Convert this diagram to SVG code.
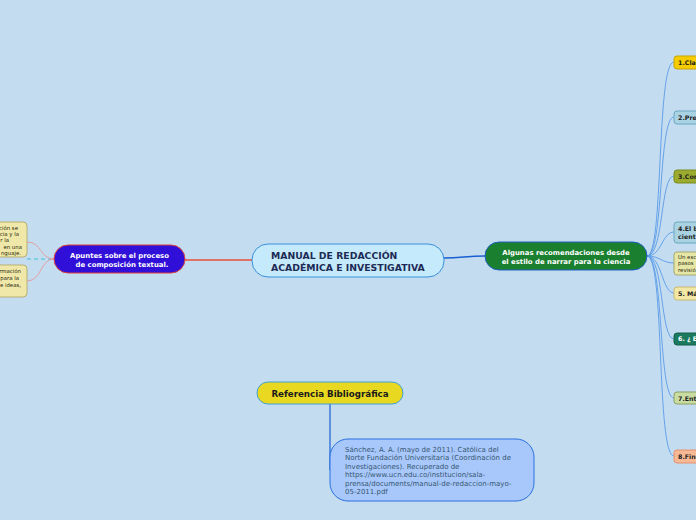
<svg xmlns="http://www.w3.org/2000/svg" width="696" height="520" viewBox="0 0 696 520">
<style>
text{font-family:"DejaVu Sans","Liberation Sans",sans-serif}
.b{font-weight:bold}
.kt{font-size:6.3px;font-weight:bold;fill:#1e1e1e}
.leaf{font-size:5.4px;fill:#2a2a10}
.rc{fill:none;stroke:#5a9be8;stroke-width:0.9}
</style>
<rect width="696" height="520" fill="#c3dcf0"/>
<g id="connectors">
<path d="M252,260 L185,260" stroke="#e8503a" stroke-width="1.5" fill="none"/>
<path d="M444,258 C462,258 466,256 485,256" stroke="#1a5fd0" stroke-width="1.5" fill="none"/>
<path d="M27,259 L54,259" stroke="#80cfe0" stroke-width="2" stroke-dasharray="4,3" fill="none"/>
<path d="M54,259 C40,259 42,242 27,242" stroke="#e89898" stroke-width="0.9" fill="none"/>
<path d="M54,259 C40,259 42,281 27,281" stroke="#e89898" stroke-width="0.9" fill="none"/>
<path d="M330,404 L330,470" stroke="#1a5fd0" stroke-width="1.2" fill="none"/>
<path class="rc" d="M647,256 C664,256 656,62 674,62"/>
<path class="rc" d="M647,256 C664,256 658,117 674,117"/>
<path class="rc" d="M647,256 C664,256 660,176 674,176"/>
<path class="rc" d="M647,256 C662,256 662,232 674,232"/>
<path class="rc" d="M647,256 C660,256 662,263 674,263"/>
<path class="rc" d="M647,256 C662,256 662,293 674,293"/>
<path class="rc" d="M647,256 C664,256 660,339 674,339"/>
<path class="rc" d="M647,256 C664,256 658,398 674,398"/>
<path class="rc" d="M647,256 C665,256 656,456 674,456"/>
</g>
<g id="central">
<rect x="252" y="244" width="192" height="33" rx="16" fill="#c5eafc" stroke="#3a90d8" stroke-width="1"/>
<text x="271" y="259" class="b" font-size="9.3" fill="#1d2a55">MANUAL DE REDACCIÓN</text>
<text x="271" y="271" class="b" font-size="9.3" fill="#1d2a55">ACADÉMICA E INVESTIGATIVA</text>
</g>
<g id="apuntes">
<rect x="54" y="245" width="131" height="28" rx="14" fill="#3010d8" stroke="#e0403a" stroke-width="1"/>
<text x="119.5" y="258" class="b" font-size="6.9" fill="#ffffff" text-anchor="middle">Apuntes sobre el proceso</text>
<text x="122" y="267" class="b" font-size="6.9" fill="#ffffff" text-anchor="middle">de composición textual.</text>
</g>
<g id="leaf-left-1">
<rect x="-20" y="222" width="47" height="35" rx="4" fill="#f0e8a8" stroke="#b8b070" stroke-width="1"/>
<text class="leaf" text-anchor="end" x="18" y="230">ción se</text>
<text class="leaf" text-anchor="end" x="19" y="236">cia y la</text>
<text class="leaf" text-anchor="end" x="9" y="242">r la</text>
<text class="leaf" text-anchor="end" x="22" y="249">en una</text>
<text class="leaf" text-anchor="end" x="21" y="255">nguaje.</text>
</g>
<g id="leaf-left-2">
<rect x="-20" y="265" width="47" height="32" rx="4" fill="#f0e8a8" stroke="#b8b070" stroke-width="1"/>
<text class="leaf" text-anchor="end" x="21" y="273">rmación</text>
<text class="leaf" text-anchor="end" x="19" y="280">para la</text>
<text class="leaf" text-anchor="end" x="21" y="287">e ideas,</text>
</g>
<g id="recomendaciones">
<rect x="485" y="242" width="162" height="28" rx="14" fill="#1a8030" stroke="#2060c0" stroke-width="1"/>
<text x="566" y="254.5" class="b" font-size="6.9" fill="#ffffff" text-anchor="middle">Algunas recomendaciones  desde</text>
<text x="566" y="264" class="b" font-size="6.9" fill="#ffffff" text-anchor="middle">el estilo de narrar para la ciencia</text>
</g>
<g id="c1"><rect x="674" y="56" width="60" height="13" rx="3" fill="#f5cc00" stroke="#c9a300"/><text class="kt" x="678" y="64.5">1.Cla</text></g>
<g id="c2"><rect x="674" y="111" width="60" height="13" rx="3" fill="#a9d2e2" stroke="#6aa8c0"/><text class="kt" x="678" y="119.5">2.Pre</text></g>
<g id="c3"><rect x="674" y="170" width="60" height="13" rx="3" fill="#9aab2e" stroke="#7a8a20"/><text class="kt" x="678" y="178.5">3.Com</text></g>
<g id="c4"><rect x="674" y="222" width="60" height="21" rx="3" fill="#a9d2e2" stroke="#6aa8c0"/><text class="kt" x="678" y="230.5">4.El b</text><text class="kt" x="678" y="238.5">cient</text></g>
<g id="c5"><rect x="674" y="252" width="60" height="23" rx="3" fill="#e6e6a6" stroke="#a8a870"/><text class="leaf" x="678" y="258.5">Un esc</text><text class="leaf" x="678" y="265">pasos</text><text class="leaf" x="678" y="271.5">revisió</text></g>
<g id="c6"><rect x="674" y="287" width="60" height="13" rx="3" fill="#f2e8a6" stroke="#c8b870"/><text class="kt" x="678" y="295.5">5. Má</text></g>
<g id="c7"><rect x="674" y="333" width="60" height="12" rx="3" fill="#1b7a5e" stroke="#126048"/><text class="kt" x="678" y="341" style="fill:#ffffff">6. ¿ E</text></g>
<g id="c8"><rect x="674" y="392" width="60" height="12" rx="3" fill="#c9dca2" stroke="#8ea060"/><text class="kt" x="678" y="400.5">7.Ent</text></g>
<g id="c9"><rect x="674" y="450" width="60" height="13" rx="3" fill="#f7b894" stroke="#e49070"/><text class="kt" x="678" y="458.5">8.Fin</text></g>
<g id="referencia">
<rect x="257" y="382" width="146" height="22" rx="11" fill="#e8d820" stroke="#40a0d8" stroke-width="1"/>
<text x="330" y="396.5" class="b" font-size="8.7" fill="#1a1a1a" text-anchor="middle">Referencia Bibliográfica</text>
</g>
<g id="cita">
<rect x="330" y="439" width="204" height="62" rx="18" fill="#a8c8fc" stroke="#2a70e0" stroke-width="1"/>
<g font-size="7" fill="#35566e">
<text x="345" y="451.5">Sánchez, A. A. (mayo de 2011). Católica del</text>
<text x="345" y="460">Norte Fundación Universitaria (Coordinación de</text>
<text x="345" y="468.5">Investigaciones). Recuperado de</text>
<text x="345" y="477">https://www.ucn.edu.co/institucion/sala-</text>
<text x="345" y="485.5">prensa/documents/manual-de-redaccion-mayo-</text>
<text x="345" y="494">05-2011.pdf</text>
</g>
</g>
</svg>
